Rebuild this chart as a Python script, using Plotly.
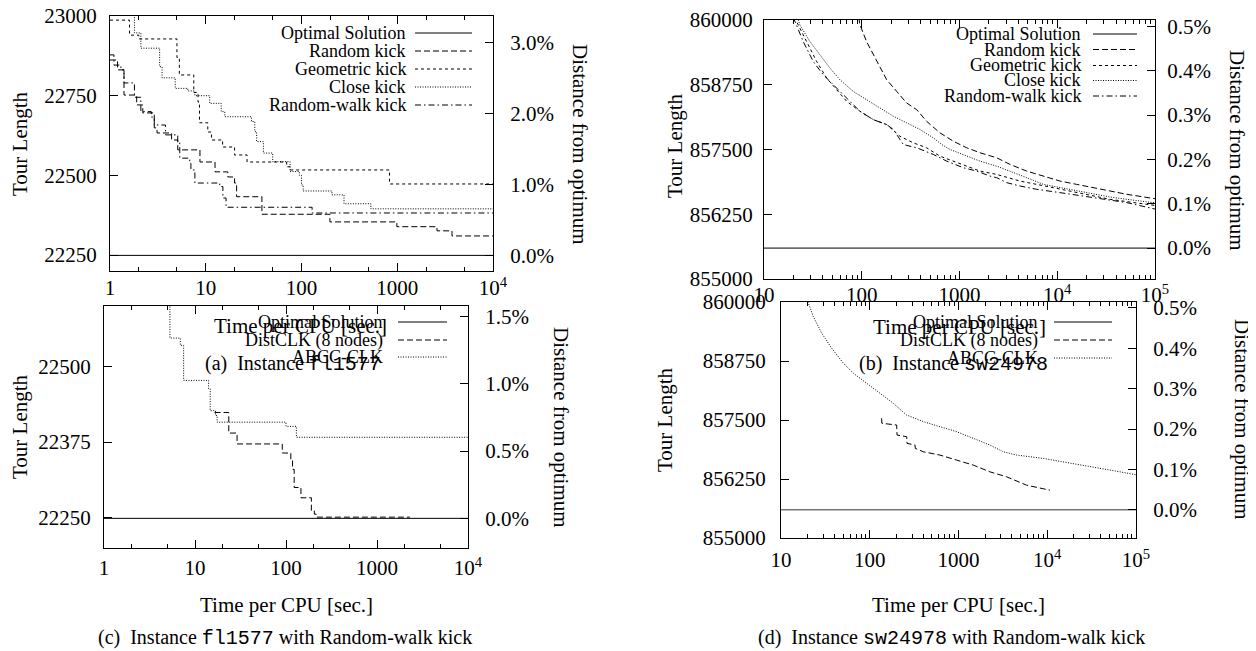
import math
import plotly.graph_objects as go

W, H = 1256, 651
OFF = 8  # page body margin of the browser, compensated in the layout
SERIF = "Liberation Serif, Times New Roman, serif"
MONO = "Liberation Mono"

# ---------------- data ----------------
OPT_FL = 22249      # optimum fl1577
OPT_SW = 855597     # optimum sw24978

# (a) fl1577 kick comparison (time [s], tour length) - step curves
a_random_t = [1, 1.2, 1.4, 1.9, 2.2, 2.9, 3.1, 4.4, 5.1, 8.7, 12.5, 17, 20, 21, 38.6, 198, 991, 2600, 3730, 10000]
a_random_L = [22862, 22831, 22752, 22721, 22696, 22649, 22633, 22611, 22580, 22542, 22511, 22495, 22476, 22433, 22378, 22354, 22339, 22326, 22310, 22310]
a_geom_t = [1, 1.6, 2.0, 5.0, 5.3, 7.5, 8.3, 8.6, 10.5, 11.5, 15, 20, 27, 70, 76, 830, 10000]
a_geom_L = [22987, 22940, 22928, 22870, 22815, 22760, 22730, 22665, 22636, 22611, 22589, 22564, 22542, 22527, 22517, 22473, 22473]
a_close_t = [1, 1.8, 2.1, 3.3, 3.5, 4.8, 6.5, 7.7, 11, 14.5, 15.8, 30, 32.5, 34, 40, 50, 76, 95, 100, 104, 208, 278, 530, 10000]
a_close_L = [23100, 22947, 22899, 22841, 22806, 22773, 22765, 22750, 22726, 22700, 22684, 22669, 22637, 22606, 22570, 22543, 22512, 22500, 22470, 22451, 22439, 22411, 22395, 22395]
a_rwalk_t = [1, 1.1, 1.3, 1.4, 1.8, 2.1, 2.7, 2.9, 3.8, 5.1, 5.35, 6.8, 7.0, 7.7, 14, 15.1, 16.3, 129, 10000]
a_rwalk_L = [22878, 22846, 22831, 22790, 22745, 22700, 22683, 22658, 22627, 22605, 22554, 22538, 22517, 22476, 22465, 22429, 22400, 22382, 22382]

# (b) sw24978 kick comparison
b_random_t = [93, 96, 112, 142, 180, 228, 288, 365, 461, 631, 864, 1185, 1622, 2400, 3290, 4870, 7210, 10700, 15800, 23400, 34700, 51400, 100000]
b_random_L = [860050, 859904, 859583, 859198, 858846, 858621, 858398, 858269, 858044, 857821, 857660, 857533, 857437, 857340, 857212, 857083, 856987, 856890, 856827, 856763, 856698, 856635, 856550]
b_close_t = [22, 23.3, 29.5, 37.4, 47.3, 59.8, 82, 112, 154, 211, 288, 395, 540, 657, 800, 1096, 1622, 2400, 3290, 4870, 7210, 10700, 15800, 23400, 34700, 51400, 100000]
b_close_L = [860050, 859904, 859583, 859327, 859071, 858846, 858621, 858462, 858302, 858141, 858014, 857885, 857725, 857596, 857500, 857404, 857275, 857179, 857083, 856956, 856827, 856763, 856698, 856635, 856583, 856538, 856470]
b_geom_t = [20.5, 21.6, 27.3, 34.6, 43.8, 55.4, 70.2, 96, 131, 180, 246, 337, 461, 631, 864, 1185, 1622, 2400, 4170, 9120, 15800, 34700, 100000]
b_geom_L = [860050, 859968, 859583, 859198, 858878, 858654, 858429, 858237, 858077, 857981, 857756, 857628, 857533, 857371, 857275, 857179, 857083, 857019, 856890, 856763, 856667, 856538, 856420]
b_rwalk_t = [19.8, 20.8, 25.2, 31.9, 40.4, 55.4, 75.9, 96, 131, 180, 211, 266, 365, 540, 740, 1096, 1500, 2050, 2400, 3040, 4170, 6170, 10700, 23400, 51400, 100000]
b_rwalk_L = [860050, 859968, 859583, 859198, 858942, 858686, 858429, 858237, 858077, 857981, 857885, 857596, 857533, 857404, 857275, 857148, 857083, 856987, 856956, 856860, 856795, 856731, 856667, 856571, 856475, 856350]

# (c) fl1577 DistCLK vs ABCC-CLK (step curves)
c_dist_t = [16.4, 23.5, 29, 91, 113, 118, 123, 146, 190, 205, 214, 2300]
c_dist_L = [22424, 22390, 22372, 22357, 22345, 22330, 22300, 22283, 22262, 22256, 22251, 22251]
c_abcc_t = [5.1, 5.3, 6.9, 7.5, 14.1, 14.7, 16.8, 17.5, 100, 130, 10000]
c_abcc_L = [22700, 22547, 22535, 22477, 22463, 22427, 22419, 22408, 22401, 22383, 22383]

# (d) sw24978 DistCLK vs ABCC-CLK
d_dist_t = [136, 137, 201, 203, 261, 263, 324, 326, 401, 619, 955, 1470, 2260, 3490, 5860, 10700]
d_dist_L = [857536, 857430, 857394, 857181, 857146, 857005, 856969, 856899, 856827, 856757, 856650, 856544, 856402, 856296, 856119, 856013]
d_abcc_t = [19.5, 20.3, 23.1, 28.7, 37.2, 50.4, 65.3, 92.3, 130, 184, 260, 402, 619, 955, 1470, 2260, 3200, 4520, 9020, 19600, 39300, 66000, 100000]
d_abcc_L = [860050, 859979, 859694, 859341, 859023, 858704, 858492, 858280, 858067, 857855, 857606, 857464, 857358, 857252, 857111, 856969, 856827, 856757, 856686, 856580, 856474, 856402, 856340]

kick_names = ["Optimal Solution", "Random kick", "Geometric kick", "Close kick", "Random-walk kick"]
cmp_names = ["Optimal Solution", "DistCLK (8 nodes)", "ABCC-CLK"]

x_ticks_a = [1, 10, 100, 1000, 10000]
x_text_a = ["1", "10", "100", "1000", "10<sup>4</sup>"]
x_ticks_b = [10, 100, 1000, 10000, 100000]
x_text_b = ["10", "100", "1000", "10<sup>4</sup>", "10<sup>5</sup>"]
y_ticks_a = [22250, 22500, 22750, 23000]
y_ticks_c = [22250, 22375, 22500]
y_ticks_b = [855000, 856250, 857500, 858750, 860000]
pct_ticks_a = [0, 1, 2, 3]
pct_ticks_c = [0, 0.5, 1, 1.5]
pct_ticks_b = [0, 0.1, 0.2, 0.3, 0.4, 0.5]

# ---------------- styles ----------------
DASH_RANDOM = "6px,3px"
DASH_GEOM = "3px,3px"
DASH_CLOSE = "1px,1.5px"
DASH_RWALK = "6px,3px,1.5px,3px"
DASH_DIST = "6px,3px"
DASH_ABCC = "1px,1.5px"


def fx(px):
    return (px - OFF) / W


def fy(py):
    return 1 - (py - OFF) / H


PANELS = {
    "a": dict(x=(110, 493), y=(16, 271)),
    "b": dict(x=(764, 1155), y=(20, 279)),
    "c": dict(x=(104, 468), y=(306, 548)),
    "d": dict(x=(781, 1136), y=(302, 538)),
}

fig = go.Figure()


def line(t, L, xa, ya, dash, shape="hv", color="black"):
    fig.add_trace(go.Scatter(x=t, y=L, xaxis=xa, yaxis=ya, mode="lines",
                             line=dict(color=color, width=1, dash=dash, shape=shape),
                             showlegend=False, hoverinfo="skip"))


def anchor_trace(xa, ya, xv):
    # invisible point so that the percent axis is drawn
    fig.add_trace(go.Scatter(x=[xv], y=[0], xaxis=xa, yaxis=ya, mode="markers",
                             marker=dict(opacity=0, size=1), showlegend=False, hoverinfo="skip"))


# panel a
line([1, 10000], [OPT_FL, OPT_FL], "x", "y", "solid", "linear")
line(a_random_t, a_random_L, "x", "y", DASH_RANDOM)
line(a_geom_t, a_geom_L, "x", "y", DASH_GEOM)
line(a_close_t, a_close_L, "x", "y", DASH_CLOSE)
line(a_rwalk_t, a_rwalk_L, "x", "y", DASH_RWALK)
anchor_trace("x", "y2", 10)
# panel b
line([10, 100000], [OPT_SW, OPT_SW], "x2", "y3", "solid", "linear")
line(b_random_t, b_random_L, "x2", "y3", DASH_RANDOM, "linear")
line(b_geom_t, b_geom_L, "x2", "y3", DASH_GEOM, "linear")
line(b_close_t, b_close_L, "x2", "y3", DASH_CLOSE, "linear")
line(b_rwalk_t, b_rwalk_L, "x2", "y3", DASH_RWALK, "linear")
anchor_trace("x2", "y4", 100)
# panel c
line([1, 10000], [OPT_FL, OPT_FL], "x3", "y5", "solid", "linear")
line(c_dist_t, c_dist_L, "x3", "y5", DASH_DIST)
line(c_abcc_t, c_abcc_L, "x3", "y5", DASH_ABCC)
anchor_trace("x3", "y6", 10)
# panel d
line([10, 100000], [OPT_SW, OPT_SW], "x4", "y7", "solid", "linear", "#333")
line(d_dist_t, d_dist_L, "x4", "y7", DASH_DIST, "linear")
line(d_abcc_t, d_abcc_L, "x4", "y7", DASH_ABCC, "linear")
anchor_trace("x4", "y8", 100)

TICKFONT = dict(family=SERIF, size=21, color="black")


def minor_vals(lo, hi, mults):
    vals = []
    d = lo
    while d < hi:
        for m in mults:
            vals.append(d * m)
        d *= 10
    return vals


COMMON = dict(automargin=False, ticks="inside", ticklen=8, tickwidth=1, tickcolor="black",
              showline=True, linecolor="black", linewidth=1.3, showgrid=False, zeroline=False,
              tickfont=TICKFONT, ticklabeloverflow="allow", tickmode="array")


def xaxis(p, anchor, lo, hi, tv, tt, mults, standoff):
    return dict(domain=[fx(p["x"][0]), fx(p["x"][1])], anchor=anchor, type="log",
                range=[math.log10(lo), math.log10(hi)], tickvals=tv, ticktext=tt,
                minor=dict(tickmode="array", tickvals=minor_vals(lo, hi, mults), ticks="inside",
                           ticklen=4, tickwidth=1, tickcolor="black", showgrid=False),
                mirror="ticks", ticklabelstandoff=standoff, **COMMON)


def yaxis(p, anchor, rng, tv, standoff):
    return dict(domain=[fy(p["y"][1]), fy(p["y"][0])], anchor=anchor, range=rng,
                tickvals=tv, ticktext=[str(v) for v in tv], mirror=False,
                ticklabelstandoff=standoff, **COMMON)


def pctaxis(over, anchor, rng, opt, tv, fmt, standoff):
    return dict(overlaying=over, anchor=anchor, side="right",
                range=[(rng[0] - opt) / opt * 100, (rng[1] - opt) / opt * 100],
                tickvals=tv, ticktext=[fmt.format(v) for v in tv],
                ticklabelstandoff=standoff, **COMMON)


A, B, C, D = PANELS["a"], PANELS["b"], PANELS["c"], PANELS["d"]
rng_a = [22200, 23000]
rng_c = [22200, 22600]
rng_b = [855000, 860000]

fig.update_layout(
    xaxis=xaxis(A, "y", 1, 10000, x_ticks_a, x_text_a, [2, 5], -2),
    yaxis=yaxis(A, "x", rng_a, y_ticks_a, 8),
    yaxis2=pctaxis("y", "x", rng_a, OPT_FL, pct_ticks_a, "{:.1f}%", 12),
    xaxis2=xaxis(B, "y3", 10, 100000, x_ticks_b, x_text_b, [2, 3, 4, 5, 6, 7, 8, 9], -3),
    yaxis3=yaxis(B, "x2", rng_b, y_ticks_b, 6),
    yaxis4=pctaxis("y3", "x2", rng_b, OPT_SW, pct_ticks_b, "{:.1f}%", 7),
    xaxis3=xaxis(C, "y5", 1, 10000, x_ticks_a, x_text_a, [2, 5], 1),
    yaxis5=yaxis(C, "x3", rng_c, y_ticks_c, 8),
    yaxis6=pctaxis("y5", "x3", rng_c, OPT_FL, pct_ticks_c, "{:.1f}%", 12),
    xaxis4=xaxis(D, "y7", 10, 100000, x_ticks_b, x_text_b, [2, 3, 4, 5, 6, 7, 8, 9], 3),
    yaxis7=yaxis(D, "x4", rng_b, y_ticks_b, 10),
    yaxis8=pctaxis("y7", "x4", rng_b, OPT_SW, pct_ticks_b, "{:.1f}%", 12),
)

ann = []
shapes = []


def text(px, py, s, size=21, angle=0, xanchor="center"):
    ann.append(dict(x=fx(px), y=fy(py), xref="paper", yref="paper", text=s, showarrow=False,
                    textangle=angle, xanchor=xanchor, yanchor="middle",
                    font=dict(family=SERIF, size=size, color="black")))


# axis titles
text(20, 144, "Tour Length", angle=-90)
text(580, 144, "Distance from optimum", angle=90)
text(300, 326, "Time per CPU [sec.]")
text(675, 146, "Tour Length", angle=-90)
text(1237, 150, "Distance from optimum", angle=90)
text(959, 327, "Time per CPU [sec.]")
text(20, 427, "Tour Length", angle=-90)
text(561, 427, "Distance from optimum", angle=90)
text(286, 605, "Time per CPU [sec.]")
text(665, 420, "Tour Length", angle=-90)
text(1242, 419, "Distance from optimum", angle=90)
text(958, 605, "Time per CPU [sec.]")

mono = lambda s: "<span style='font-family:" + MONO + "'>" + s + "</span>"
text(293, 364, "(a)&nbsp; Instance " + mono("fl1577"), size=20)
text(953, 364, "(b)&nbsp; Instance " + mono("sw24978"), size=20)
text(285, 638, "(c)&nbsp; Instance " + mono("fl1577") + " with Random-walk kick", size=20)
text(951, 638, "(d)&nbsp; Instance " + mono("sw24978") + " with Random-walk kick", size=20)

# legends (right-aligned labels with line samples)
LEG = [
    (408, 415, 472, [33, 51, 69, 87, 105], kick_names, ["solid", DASH_RANDOM, DASH_GEOM, DASH_CLOSE, DASH_RWALK]),
    (1083, 1093, 1137, [34, 49.5, 65.5, 80.5, 96], kick_names, ["solid", DASH_RANDOM, DASH_GEOM, DASH_CLOSE, DASH_RWALK]),
    (385, 398, 447, [322, 340, 357], cmp_names, ["solid", DASH_DIST, DASH_ABCC]),
    (1040, 1054, 1112, [322, 340, 358], cmp_names, ["solid", DASH_DIST, DASH_ABCC]),
]
for xr, s0, s1, rows, names, dashes in LEG:
    for yy, nm, ds in zip(rows, names, dashes):
        text(xr, yy, nm, size=18, xanchor="right")
        shapes.append(dict(type="line", xref="paper", yref="paper", x0=fx(s0), x1=fx(s1),
                           y0=fy(yy), y1=fy(yy), line=dict(color="black", width=1, dash=ds)))

fig.update_layout(annotations=ann, shapes=shapes, width=W, height=H,
                  margin=dict(l=0, r=0, t=0, b=0, pad=0, autoexpand=False),
                  paper_bgcolor="white", plot_bgcolor="white",
                  showlegend=False)

fig.write_html("out.html")
